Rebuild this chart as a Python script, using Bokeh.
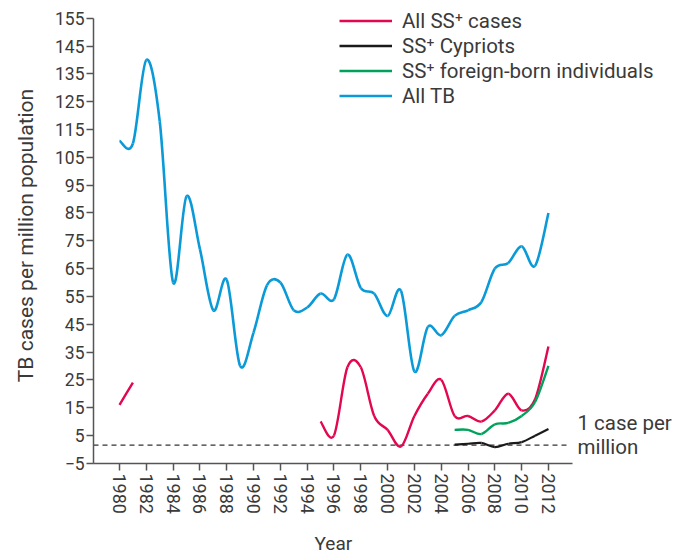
from bokeh.plotting import figure
from bokeh.models import FixedTicker, Legend, LegendItem, ColumnDataSource, Title, LinearAxis
from bokeh.core.properties import value
from bokeh.embed import file_html
from bokeh.resources import INLINE

# ---------------- data ----------------
tb_years = list(range(1980, 2013))
all_tb = [111, 110, 140, 118, 60, 91, 72, 50, 61, 30, 42, 59, 60, 50, 51, 56, 54,
          70, 58, 56, 48, 57, 28, 44, 41, 48, 50, 53, 65, 67, 73, 66, 85]

ss_years_a = [1980, 1981]
all_ss_a = [16, 24]
ss_years_b = list(range(1995, 2013))
all_ss_b = [10, 5, 29.5, 29.5, 12, 7, 1, 12, 20, 25, 12, 12, 10, 14, 20, 14, 18, 37]

sub_years = list(range(2005, 2013))
ss_cypriots = [1.7, 2.0, 2.3, 0.8, 2.0, 2.6, 4.9, 7.3]
ss_foreign = [7, 7, 5.5, 9, 9.5, 12, 17, 30]

threshold = 1.5
x_ticks = list(range(1980, 2013, 2))
y_ticks = list(range(-5, 156, 10))

labels = ["All SS\u207a cases", "SS\u207a Cypriots", "SS\u207a foreign-born individuals", "All TB"]
colors = ["#e2074f", "#1a1a1a", "#00a15a", "#0a9ad8"]

FONT = "Roboto"
TXT = "#3a3a3a"
NAN = float("nan")

# ---------------- figure ----------------
p = figure(width=680, height=555, output_backend="svg", toolbar_location=None,
           x_range=(1978.06, 2021.85), y_range=(-5.1, 158.9),
           min_border_left=93, min_border_right=0, min_border_top=7, min_border_bottom=92)
p.outline_line_color = None
p.grid.visible = False
p.background_fill_color = "white"
p.border_fill_color = "white"

for ax in (p.xaxis[0], p.yaxis[0]):
    ax.axis_line_color = "#555555"
    ax.axis_line_width = 1.5
    ax.major_tick_line_color = "#555555"
    ax.major_tick_line_width = 1.5
    ax.major_tick_out = 7
    ax.major_tick_in = 0
    ax.minor_tick_line_color = None
    ax.major_label_text_font = FONT
    ax.major_label_text_color = TXT
    ax.axis_label_text_font = FONT
    ax.axis_label_text_font_style = "normal"
    ax.axis_label_text_color = TXT

p.xaxis.major_label_text_font_size = "18px"
p.yaxis.major_label_text_font_size = "17.5px"
p.xaxis.ticker = FixedTicker(ticks=x_ticks)
p.yaxis.ticker = FixedTicker(ticks=y_ticks)
p.xaxis.bounds = (1978.06, 2013.8)
p.yaxis.bounds = (-5, 155)
p.xaxis.major_label_orientation = "vertical"
p.xaxis.major_label_standoff = 3
p.yaxis.major_label_standoff = 2

p.yaxis.axis_label = "TB cases per million population"
p.yaxis.axis_label_text_font_size = "21px"
p.yaxis.axis_label_standoff = 14

# invisible spacer axis (one hidden tick, empty label) to push the x title down
spacer = LinearAxis(ticker=FixedTicker(ticks=[x_ticks[0]]), axis_line_color=None,
                    major_tick_line_color=None, minor_tick_line_color=None,
                    major_tick_out=12, major_tick_in=0, major_label_standoff=0,
                    major_label_overrides={x_ticks[0]: ""}, major_label_text_font_size="1px")
p.add_layout(spacer, "below")

# x-axis title, placed under the axis' own extent
p.add_layout(Title(text="Year", align="left", offset=221, text_font=FONT, text_font_size="19px",
                   text_font_style="normal", text_color=TXT, standoff=2,
                   vertical_align="bottom"), "below")


def bezier_source(xs, ys):
    n = len(xs)
    d = dict(x0=[], y0=[], x1=[], y1=[], cx0=[], cy0=[], cx1=[], cy1=[])
    for i in range(n - 1):
        xm, ym = (xs[i - 1], ys[i - 1]) if i > 0 else (xs[i], ys[i])
        xp, yp = (xs[i + 2], ys[i + 2]) if i + 2 < n else (xs[i + 1], ys[i + 1])
        d["x0"].append(xs[i]); d["y0"].append(ys[i])
        d["x1"].append(xs[i + 1]); d["y1"].append(ys[i + 1])
        d["cx0"].append(xs[i] + (xs[i + 1] - xm) / 6.0)
        d["cy0"].append(ys[i] + (ys[i + 1] - ym) / 6.0)
        d["cx1"].append(xs[i + 1] - (xp - xs[i]) / 6.0)
        d["cy1"].append(ys[i + 1] - (yp - ys[i]) / 6.0)
    return ColumnDataSource(d)


def smooth(xs, ys, color, width):
    p.bezier(x0="x0", y0="y0", x1="x1", y1="y1", cx0="cx0", cy0="cy0", cx1="cx1", cy1="cy1",
             source=bezier_source(xs, ys), line_color=color, line_width=width)


# threshold dashed line
p.line([1978.06, 2013.6], [threshold, threshold], line_color="#333333", line_width=1.3, line_dash="5 4")

smooth(tb_years, all_tb, colors[3], 2.6)
smooth(ss_years_a, all_ss_a, colors[0], 2.4)
smooth(ss_years_b, all_ss_b, colors[0], 2.4)
smooth(sub_years, ss_foreign, colors[2], 2.4)
smooth(sub_years, ss_cypriots, colors[1], 2.2)

# legend (proxy renderers that draw nothing in the plot)
items = []
for lab, col in zip(labels, colors):
    r = p.line([NAN, NAN], [NAN, NAN], line_color=col, line_width=2.6)
    items.append(LegendItem(label=lab, renderers=[r]))
leg = Legend(items=items, location=(246, 355), padding=0, margin=0, spacing=0,
             glyph_width=53, glyph_height=25, label_height=25, label_standoff=10,
             label_text_font=FONT, label_text_font_size="20.5px", label_text_color=TXT,
             border_line_alpha=0, background_fill_alpha=0)
p.add_layout(leg, "center")

# annotation text
p.text(x=[2014.16, 2014.16], y=[9.5, 0.9], text=["1 case per", "million"],
       text_font=value(FONT), text_font_size="20.5px", text_color=TXT,
       text_baseline="alphabetic", text_align="left")

open("out.html", "w").write(file_html(p, INLINE))
